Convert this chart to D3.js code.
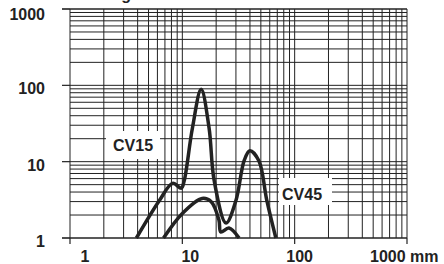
<!DOCTYPE html>
<html><head><meta charset="utf-8">
<script src="https://cdn.jsdelivr.net/npm/d3@7"></script>
<style>
html,body{margin:0;padding:0;background:#fff;}
svg{display:block;}
text{font-family:"Liberation Sans",Arial,sans-serif;font-weight:bold;fill:#222;}
</style></head>
<body>
<svg id="c" width="444" height="264"></svg>
<script>
const xTicks = [1, 10, 100, 1000];
const xTickLabels = ["1", "10", "100", "1000 mm"];
const yTicks = [1, 10, 100, 1000];
const yTickLabels = ["1", "10", "100", "1000"];
const seriesNames = ["CV15", "CV45"];
// curve A (tall peak)
const cv15x = [3.9, 6.25, 8.2, 9.8, 10.4, 12.3, 14.7, 17.3, 19.2, 24.5, 30, 35.5, 39.9, 48, 56.5, 68];
const cv15y = [1, 3.1, 5.2, 4.5, 5.66, 27.6, 88.7, 27.6, 5.66, 1.57, 3.1, 10.3, 13.9, 10.3, 3.1, 1];
// curve B (broad)
const cv45x = [6.8, 10, 15, 18, 21.2, 22, 26, 32];
const cv45y = [1, 2.1, 3.3, 3.0, 1.71, 1.2, 1.35, 1];

const svg = d3.select("#c");
const x = d3.scaleLog().domain([1, 1000]).range([70, 407]);
const y = d3.scaleLog().domain([1, 1000]).range([238, 9]);

// title (cut off at top in the reference)
svg.append("text").attr("x", 131).attr("y", 0).attr("text-anchor", "end")
  .style("font-size", "16px").text("Grading");

const gridVals = [];
for (let k = 0; k < 3; k++) for (let m = 1; m <= 9; m++) gridVals.push(m * Math.pow(10, k));
gridVals.push(1000);

const g = svg.append("g");
g.selectAll("line.h").data(gridVals).join("line")
  .attr("x1", x(1)).attr("x2", x(1000))
  .attr("y1", d => y(d)).attr("y2", d => y(d))
  .attr("stroke", "#222").attr("stroke-width", 1);
g.selectAll("line.v").data(gridVals).join("line")
  .attr("y1", y(1)).attr("y2", y(1000))
  .attr("x1", d => x(d)).attr("x2", d => x(d))
  .attr("stroke", "#222").attr("stroke-width", 1);

// white label boxes
svg.append("rect").attr("x", 106).attr("y", 131).attr("width", 54).attr("height", 28).attr("fill", "#fff");
svg.append("rect").attr("x", 279).attr("y", 178).attr("width", 53).attr("height", 27).attr("fill", "#fff");

// axes
svg.append("line").attr("x1", 62).attr("x2", x(1000)).attr("y1", y(1)).attr("y2", y(1)).attr("stroke", "#222").attr("stroke-width", 1.2);
svg.append("line").attr("x1", 62).attr("x2", x(1000)).attr("y1", y(1000)).attr("y2", y(1000)).attr("stroke", "#222").attr("stroke-width", 1.2);
svg.selectAll("line.yt").data(yTicks).join("line")
  .attr("x1", 62).attr("x2", x(1)).attr("y1", d => y(d)).attr("y2", d => y(d))
  .attr("stroke", "#222").attr("stroke-width", 1.2);
svg.selectAll("line.xt").data(xTicks).join("line")
  .attr("x1", d => x(d)).attr("x2", d => x(d)).attr("y1", y(1)).attr("y2", y(1) + 6)
  .attr("stroke", "#222").attr("stroke-width", 1.2);

// tick labels
svg.selectAll("text.yl").data(yTicks).join("text")
  .attr("x", 45).attr("y", (d, i) => y(d) + (i === 3 ? 11 : 9))
  .attr("text-anchor", "end").style("font-size", "16px")
  .text((d, i) => yTickLabels[i]);
const xOff = [15, 8, 5, -37];
svg.selectAll("text.xl").data(xTicks).join("text")
  .attr("x", (d, i) => x(d) + xOff[i]).attr("y", 262)
  .attr("text-anchor", (d, i) => i === 3 ? "start" : "middle").style("font-size", "16px")
  .text((d, i) => xTickLabels[i]);

// series labels
svg.append("text").attr("x", 113).attr("y", 151).style("font-size", "16px").text(seriesNames[0]);
svg.append("text").attr("x", 282).attr("y", 200).style("font-size", "16px").text(seriesNames[1]);

// curves
const line = d3.line().x(d => x(d[0])).y(d => y(d[1])).curve(d3.curveCatmullRom.alpha(0.5));
svg.append("path").datum(cv15x.map((v, i) => [v, cv15y[i]])).attr("d", line)
  .attr("fill", "none").attr("stroke", "#222").attr("stroke-width", 3.5).attr("stroke-linejoin", "round");
svg.append("path").datum(cv45x.map((v, i) => [v, cv45y[i]])).attr("d", line)
  .attr("fill", "none").attr("stroke", "#222").attr("stroke-width", 3.5).attr("stroke-linejoin", "round");
</script>
</body></html>
